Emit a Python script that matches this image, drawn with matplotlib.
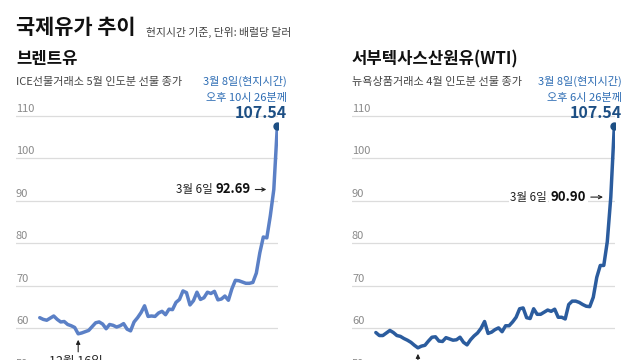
import matplotlib
matplotlib.use('Agg')
import matplotlib.pyplot as plt
from matplotlib.transforms import blended_transform_factory, offset_copy

plt.rcParams['font.family'] = ['Noto Sans CJK KR', 'DejaVu Sans']

# ---- data (daily closing prices, USD/bbl) ----
brent = [62.5, 62.1, 61.9, 62.4, 62.9, 62.1, 61.5, 61.6, 60.9, 60.6,
         60.2, 58.7, 58.9, 59.2, 59.5, 60.4, 61.3, 61.5, 61.0, 59.9,
         60.9, 60.7, 60.3, 60.6, 61.1, 59.8, 59.4, 61.5, 62.5, 63.7,
         65.3, 62.8, 62.9, 62.8, 63.6, 64.0, 63.2, 64.5, 64.4, 66.1,
         66.8, 68.8, 68.4, 65.5, 66.5, 68.5, 66.8, 67.2, 68.5, 68.2,
         68.7, 66.7, 66.9, 67.6, 66.6, 69.3, 71.3, 71.2, 70.9, 70.6,
         70.6, 70.8, 73.0, 77.8, 81.5, 81.3, 86.5, 92.69, 107.54]
wti = [59.0, 58.3, 58.3, 58.9, 59.5, 59.0, 58.3, 58.1, 57.6, 57.2,
       56.7, 56.0, 55.4, 55.8, 56.0, 57.0, 57.9, 58.0, 57.0, 56.9,
       57.8, 57.5, 57.2, 57.3, 57.9, 56.7, 56.1, 57.3, 58.2, 58.9,
       60.0, 61.6, 58.8, 59.1, 59.7, 60.1, 59.2, 60.6, 60.6, 61.5,
       62.6, 64.6, 64.8, 62.5, 62.3, 64.6, 63.3, 63.3, 63.8, 64.3,
       64.0, 64.5, 62.6, 62.6, 62.2, 65.6, 66.4, 66.4, 66.1, 65.6,
       65.2, 65.1, 67.3, 72.0, 74.8, 74.8, 80.4, 90.90, 107.54]
yticks = [50, 60, 70, 80, 90, 100, 110]
low_idx = {'brent': 11, 'wti': 12}
low_label = '12월 16일'
mar6_label = '3월 6일'

W, H = 640, 360
fig = plt.figure(figsize=(6.4, 3.6), dpi=100)
fig.patch.set_facecolor('white')


def fx(x):
    return x / W


def fy(y):
    return 1 - y / H


# y scale: 110 at 116px, 60 at 328.3px
ytop_px, ybot_px = 107.5, 392.0


def make_ax(left_px, right_px):
    ax = fig.add_axes([fx(left_px), fy(ybot_px), (right_px - left_px) / W,
                       (ybot_px - ytop_px) / H])
    ax.set_xlim(-6.8, 68.2)
    ax.set_ylim(45, 112)
    for s in ax.spines.values():
        s.set_visible(False)
    ax.set_xticks([])
    ax.set_yticks(yticks)
    ax.tick_params(axis='y', length=0, labelleft=False)
    ax.grid(axis='y', color='#dcdcdc', lw=0.9)
    ax.set_axisbelow(True)
    tr = blended_transform_factory(ax.transAxes, ax.transData)
    tr = offset_copy(tr, fig=fig, x=0, y=3, units='points')
    for v in yticks:
        ax.text(0, v, str(v), transform=tr, ha='left', va='baseline',
                fontsize=8, color='#8a8a8a', fontweight='light', clip_on=False)
    return ax


def draw_panel(ax, vals, color, low_i, num_text, tail_pt, tip_pt, num_pt, bbox):
    xs = list(range(len(vals)))
    ax.plot(xs, vals, color=color, lw=2.5, solid_joinstyle='round',
            solid_capstyle='round', zorder=3)
    ax.plot(xs[-1], vals[-1], 'o', color='#1d4f84', ms=5, zorder=4)
    # low arrow
    ax.annotate('', xy=(low_i, vals[low_i]), xytext=(0, -13),
                textcoords='offset points',
                arrowprops=dict(arrowstyle='-|>', color='#222222', lw=0.8,
                                shrinkA=0, shrinkB=4.3, mutation_scale=6))
    ax.annotate(low_label, xy=(low_i, vals[low_i]), xytext=(-2, -15),
                textcoords='offset points', ha='center', va='top',
                fontsize=9, color='#222222', annotation_clip=False)
    # 3/6 marker
    i6 = len(vals) - 2
    ax.annotate('', xy=(i6, vals[i6]), xytext=(-tail_pt, 0),
                textcoords='offset points',
                arrowprops=dict(arrowstyle='->', color='#222222', lw=0.8,
                                shrinkA=0, shrinkB=tip_pt, mutation_scale=6))
    bb = dict(fc='white', ec='none', pad=1) if bbox else None
    tnum = ax.annotate(num_text, xy=(i6, vals[i6]), xytext=(-num_pt, 0),
                       textcoords='offset points', ha='right', va='center',
                       fontsize=9.5, fontweight='bold', color='#111111',
                       bbox=bb, zorder=5)
    ax.annotate(mar6_label, xy=(0, 0.5), xycoords=tnum, xytext=(-2.5, 0),
                textcoords='offset points', ha='right', va='center',
                fontsize=8.3, color='#222222', bbox=bb, zorder=5)


ax1 = make_ax(16, 278)
draw_panel(ax1, brent, '#5b80c6', low_idx['brent'], f'{brent[-2]:.2f}',
           13.3, 5.4, 16.4, False)
ax2 = make_ax(352, 615)
draw_panel(ax2, wti, '#2b5c9e', low_idx['wti'], f'{wti[-2]:.2f}',
           14.4, 5.6, 17.8, True)

# ---- header texts ----
fig.text(fx(16), fy(34), '국제유가 추이', fontsize=15, fontweight='bold',
         color='#111111', ha='left', va='baseline')
fig.text(fx(146), fy(36), '현지시간 기준, 단위: 배럴당 달러', fontsize=7.8,
         color='#444444', ha='left', va='baseline')

date_color = '#2e6db4'
num_color = '#1d4f84'
for left, right, name, sub, time_txt, last in [
        (16, 287, '브렌트유', 'ICE선물거래소 5월 인도분 선물 종가', '오후 10시 26분께', brent[-1]),
        (352, 622, '서부텍사스산원유(WTI)', '뉴욕상품거래소 4월 인도분 선물 종가', '오후 6시 26분께', wti[-1])]:
    fig.text(fx(left), fy(64), name, fontsize=12, fontweight='bold',
             color='#111111', ha='left', va='baseline')
    fig.text(fx(left), fy(85), sub, fontsize=8, color='#444444',
             ha='left', va='baseline')
    fig.text(fx(right), fy(85), '3월 8일(현지시간)', fontsize=8,
             color=date_color, ha='right', va='baseline')
    fig.text(fx(right), fy(101), time_txt, fontsize=8,
             color=date_color, ha='right', va='baseline')
    fig.text(fx(right), fy(118.5), f'{last:.2f}', fontsize=11.5,
             fontweight='bold', color=num_color, ha='right', va='baseline')

fig.savefig('out.png', dpi=100)
